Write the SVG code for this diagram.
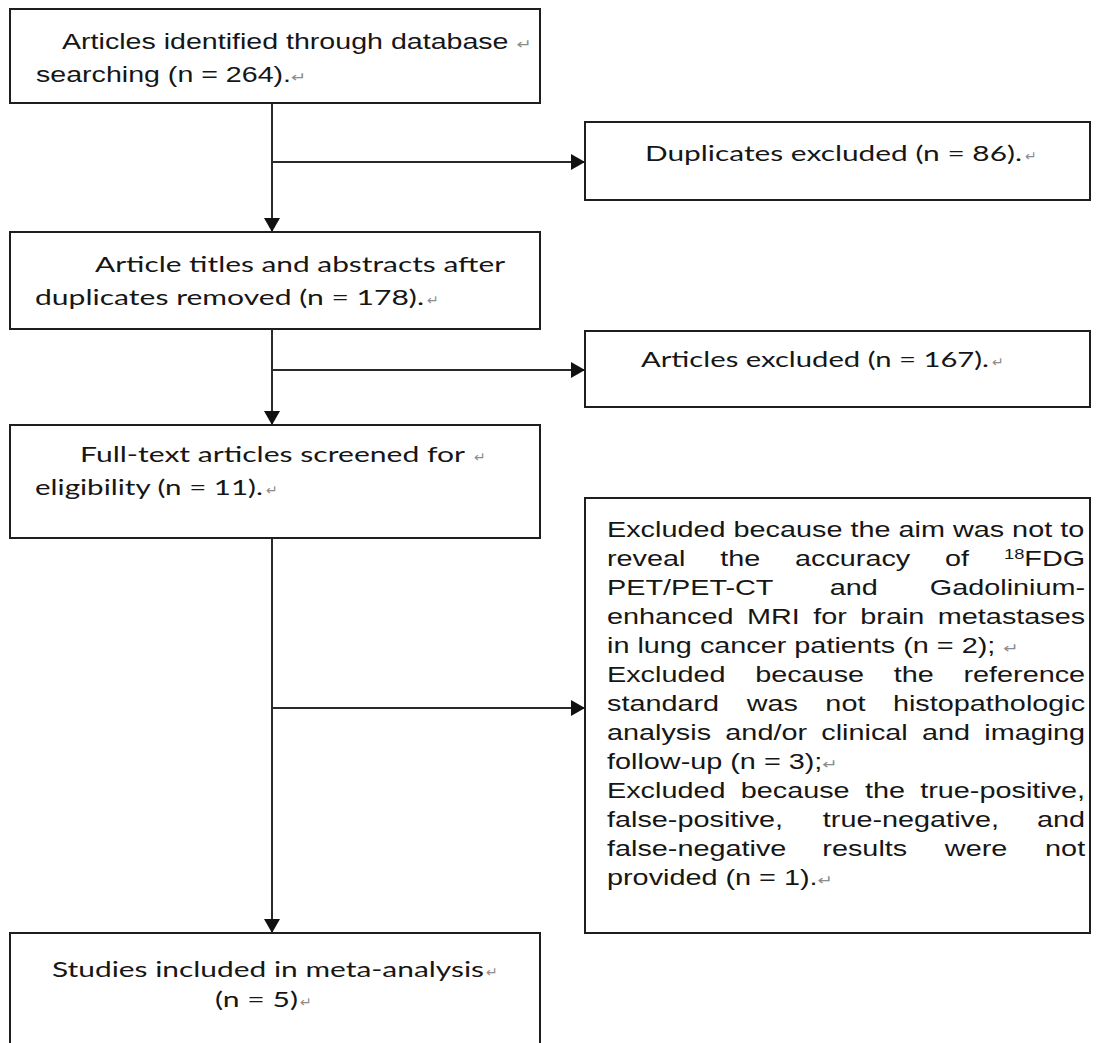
<svg xmlns="http://www.w3.org/2000/svg" width="1101" height="1043" viewBox="0 0 1101 1043">
<style>
.box{fill:#fff;stroke:#1e1e1e;stroke-width:2}
.ln{fill:none;stroke:#2a2a2a;stroke-width:2}
.ar{font-family:"Liberation Sans",Arial,sans-serif;font-size:22px;fill:#161616}
.ca{font-family:Lato,"Open Sans",sans-serif;font-size:21px;fill:#161616}
.pm{font-family:"DejaVu Sans",sans-serif;font-size:14px;fill:#8c8c8c}
</style>
<defs>
<marker id="ah" viewBox="0 0 14 16" refX="14" refY="8" markerWidth="14" markerHeight="16" orient="auto" markerUnits="userSpaceOnUse"><path d="M0,0 L14,8 L0,16 z" fill="#111"/></marker>
</defs>
<rect width="1101" height="1043" fill="#fff"/>
<g id="connectors">
<path class="ln" d="M272,103 V232" marker-end="url(#ah)"/>
<path class="ln" d="M272,162 H585" marker-end="url(#ah)"/>
<path class="ln" d="M272,329 V425" marker-end="url(#ah)"/>
<path class="ln" d="M272,370 H585" marker-end="url(#ah)"/>
<path class="ln" d="M272,538 V933" marker-end="url(#ah)"/>
<path class="ln" d="M272,708 H585" marker-end="url(#ah)"/>
</g>
<g id="n1">
<rect class="box" x="10" y="9" width="530" height="94"/>
<g transform="scale(1.3 1)">
<text class="ar" x="47.7" y="49">Articles identified through database <tspan class="pm">↵</tspan></text>
<text class="ar" x="27.7" y="82">searching (n = 264).<tspan class="pm">↵</tspan></text>
</g>
</g>
<g id="n2">
<rect class="box" x="585" y="122" width="505" height="78"/>
<text class="ca" x="645" y="161" textLength="377" lengthAdjust="spacingAndGlyphs">Duplicates excluded (n = 86).</text>
<text class="pm" x="1025" y="161">↵</text>
</g>
<g id="n3">
<rect class="box" x="10" y="232" width="530" height="97"/>
<text class="ca" x="95" y="272" textLength="410" lengthAdjust="spacingAndGlyphs">Article titles and abstracts after</text>
<text class="ca" x="35" y="305" textLength="389" lengthAdjust="spacingAndGlyphs">duplicates removed (n = 178).</text>
<text class="pm" x="427" y="305">↵</text>
</g>
<g id="n4">
<rect class="box" x="585" y="331" width="505" height="76"/>
<text class="ca" x="641" y="367" textLength="348" lengthAdjust="spacingAndGlyphs">Articles excluded (n = 167).</text>
<text class="pm" x="992" y="367">↵</text>
</g>
<g id="n5">
<rect class="box" x="10" y="425" width="530" height="113"/>
<text class="ca" x="80" y="462" textLength="385" lengthAdjust="spacingAndGlyphs">Full-text articles screened for</text>
<text class="pm" x="474" y="462">↵</text>
<text class="ca" x="35" y="495" textLength="228" lengthAdjust="spacingAndGlyphs">eligibility (n = 11).</text>
<text class="pm" x="266" y="495">↵</text>
</g>
<g id="n6">
<rect class="box" x="585" y="498" width="505" height="435"/>
<g transform="translate(607 0) scale(1.31 1)">
<text class="ar" x="0" y="537">Excluded because the aim was not to</text>
<text class="ar" x="0" y="566">reveal</text>
<text class="ar" x="86.4" y="566">the</text>
<text class="ar" x="143.5" y="566">accuracy</text>
<text class="ar" x="258" y="566">of</text>
<text class="ar" x="365" y="566" text-anchor="end"><tspan font-size="14" dy="-7">18</tspan><tspan dy="7">FDG</tspan></text>
<text class="ar" x="0" y="595">PET/PET-CT</text>
<text class="ar" x="170.1" y="595">and</text>
<text class="ar" x="365" y="595" text-anchor="end">Gadolinium-</text>
<text class="ar" x="0" y="624">enhanced</text>
<text class="ar" x="106.85" y="624">MRI</text>
<text class="ar" x="157.4" y="624">for</text>
<text class="ar" x="193.35" y="624">brain</text>
<text class="ar" x="365" y="624" text-anchor="end">metastases</text>
<text class="ar" x="0" y="653">in lung cancer patients (n = 2); <tspan class="pm">↵</tspan></text>
<text class="ar" x="0" y="682">Excluded</text>
<text class="ar" x="113.1" y="682">because</text>
<text class="ar" x="218.9" y="682">the</text>
<text class="ar" x="365" y="682" text-anchor="end">reference</text>
<text class="ar" x="0" y="711">standard</text>
<text class="ar" x="106.6" y="711">was</text>
<text class="ar" x="166.7" y="711">not</text>
<text class="ar" x="365" y="711" text-anchor="end">histopathologic</text>
<text class="ar" x="0" y="740">analysis</text>
<text class="ar" x="90.35" y="740">and/or</text>
<text class="ar" x="163.6" y="740">clinical</text>
<text class="ar" x="240.45" y="740">and</text>
<text class="ar" x="365" y="740" text-anchor="end">imaging</text>
<text class="ar" x="0" y="769">follow-up (n = 3);<tspan class="pm">↵</tspan></text>
<text class="ar" x="0" y="798">Excluded</text>
<text class="ar" x="102.1" y="798">because</text>
<text class="ar" x="196.9" y="798">the</text>
<text class="ar" x="365" y="798" text-anchor="end">true-positive,</text>
<text class="ar" x="0" y="827">false-positive,</text>
<text class="ar" x="164.75" y="827">true-negative,</text>
<text class="ar" x="365" y="827" text-anchor="end">and</text>
<text class="ar" x="0" y="856">false-negative</text>
<text class="ar" x="164.4" y="856">results</text>
<text class="ar" x="257.9" y="856">were</text>
<text class="ar" x="365" y="856" text-anchor="end">not</text>
<text class="ar" x="0" y="885">provided (n = 1).<tspan class="pm">↵</tspan></text>
</g>
</g>
<g id="n7">
<rect class="box" x="10" y="933" width="530" height="120"/>
<text class="ca" x="52" y="977" textLength="432" lengthAdjust="spacingAndGlyphs">Studies included in meta-analysis</text>
<text class="pm" x="486" y="977">↵</text>
<text class="ca" x="215" y="1007" textLength="83" lengthAdjust="spacingAndGlyphs">(n = 5)</text>
<text class="pm" x="300" y="1007">↵</text>
</g>
</svg>
